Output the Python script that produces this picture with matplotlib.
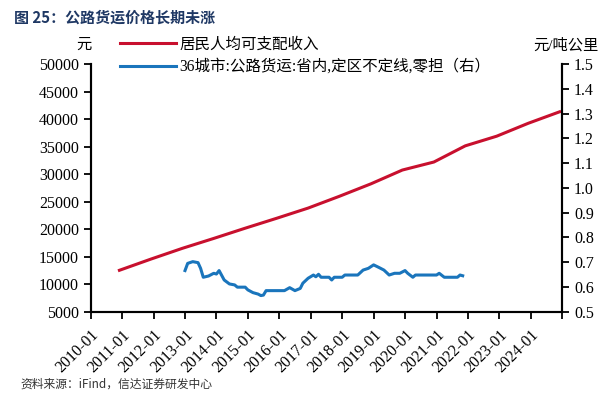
import numpy as np
import pandas as pd
import matplotlib
matplotlib.use('Agg')
import matplotlib.pyplot as plt

plt.rcParams['font.family'] = ['Liberation Serif', 'Noto Sans CJK SC']
plt.rcParams['axes.unicode_minus'] = False

# 居民人均可支配收入 (annual, plotted at year end)
inc_dates = ['2010-12', '2011-12', '2012-12', '2013-12', '2014-12', '2015-12', '2016-12',
             '2017-12', '2018-12', '2019-12', '2020-12', '2021-12', '2022-12', '2023-12', '2024-12']
inc_vals = [12520, 14551, 16510, 18311, 20167, 21966, 23821,
            25974, 28228, 30733, 32189, 35128, 36883, 39218, 41314]

# 36城市:公路货运:省内,定区不定线,零担 (元/吨公里)
frt_dates = ['2013-01', '2013-02', '2013-04', '2013-06', '2013-07', '2013-08', '2013-10', '2013-12',
             '2014-01', '2014-02', '2014-03', '2014-04', '2014-06', '2014-08', '2014-09', '2014-12',
             '2015-01', '2015-03', '2015-05', '2015-06', '2015-07', '2015-08', '2016-03', '2016-05',
             '2016-07', '2016-09', '2016-10', '2016-12', '2017-02', '2017-03', '2017-04', '2017-05',
             '2017-08', '2017-09', '2017-10', '2018-01', '2018-02', '2018-07', '2018-09', '2018-11',
             '2019-01', '2019-03', '2019-05', '2019-07', '2019-09', '2019-11', '2020-01', '2020-02',
             '2020-04', '2020-05', '2021-01', '2021-02', '2021-04', '2021-09', '2021-10', '2021-11']
frt_vals = [0.666, 0.695, 0.702, 0.698, 0.675, 0.639, 0.644, 0.655,
            0.652, 0.666, 0.648, 0.628, 0.612, 0.608, 0.599, 0.599,
            0.588, 0.577, 0.571, 0.565, 0.567, 0.585, 0.585, 0.597,
            0.585, 0.594, 0.615, 0.635, 0.648, 0.641, 0.651, 0.639,
            0.639, 0.628, 0.639, 0.639, 0.648, 0.648, 0.668, 0.675,
            0.689, 0.679, 0.668, 0.648, 0.655, 0.655, 0.666, 0.655,
            0.639, 0.648, 0.648, 0.655, 0.639, 0.639, 0.648, 0.645]

year_ticks = [f'{y}-01' for y in range(2010, 2025)]

red = '#C8102E'
blue = '#1A75BC'

fig = plt.figure(figsize=(6.16, 3.93), dpi=100)
ax = fig.add_axes([0.1472, 0.2069, 0.7656, 0.6303])
ax2 = ax.twinx()

l1, = ax.plot(pd.to_datetime(inc_dates), inc_vals, color=red, lw=2.2)
l2, = ax2.plot(pd.to_datetime(frt_dates), frt_vals, color=blue, lw=2.2)

ax.set_xlim(pd.Timestamp('2010-01-01'), pd.Timestamp('2025-01-01'))
ax.set_ylim(5000, 50000)
ax.set_yticks(np.arange(5000, 50001, 5000))
ax2.set_ylim(0.5, 1.5)
ax2.set_yticks(np.arange(0.5, 1.51, 0.1))
ax2.yaxis.set_major_formatter(matplotlib.ticker.FormatStrFormatter('%.1f'))

ticks = pd.to_datetime(year_ticks + ['2025-01'])
ax.set_xticks(ticks)
ax.set_xticklabels(year_ticks + [''], rotation=45, ha='right', va='top',
                   rotation_mode='anchor', fontsize=11.5)
ax.xaxis.set_tick_params(pad=6)

for a in (ax, ax2):
    a.spines['top'].set_visible(False)
    for s in a.spines.values():
        s.set_linewidth(1.5)
    a.tick_params(width=1.3, length=5, labelsize=11.5)
ax.tick_params(axis='x', labelsize=11.5)

fig.text(0.136, 0.885, '元', fontsize=11, ha='center', va='center')
fig.text(0.918, 0.885, '元/吨公里', fontsize=11, ha='center', va='center')

leg = fig.legend([l1, l2], ['居民人均可支配收入', '36城市:公路货运:省内,定区不定线,零担（右）'],
                 loc='upper left', bbox_to_anchor=(0.195, 0.907), frameon=False,
                 fontsize=11.2, handlelength=3.6, handletextpad=0.2, labelspacing=0.42,
                 borderpad=0, borderaxespad=0)

fig.text(0.023, 0.955, '图 25：公路货运价格长期未涨', fontsize=10.8, fontweight='bold',
         color='#1F3864', family=['Noto Sans CJK SC'], ha='left', va='center')
fig.text(0.033, 0.005, '资料来源：iFind，信达证券研发中心', fontsize=8.5, style='italic',
         color='#333333', family=['Noto Sans CJK SC'], ha='left', va='bottom')

fig.savefig('out.png', dpi=100)
